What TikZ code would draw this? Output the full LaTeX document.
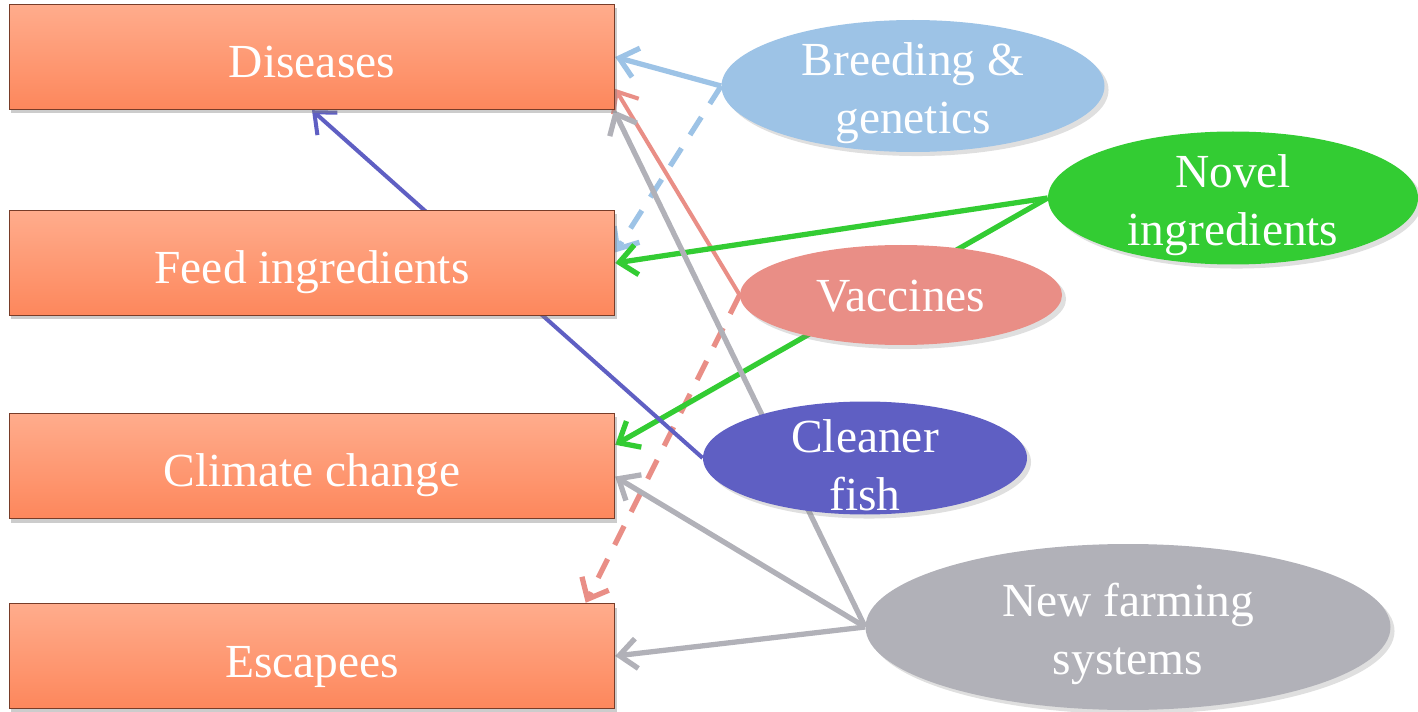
\documentclass[tikz,border=0pt]{standalone}
\usepackage{fontspec}
\setmainfont{Liberation Serif}
\usetikzlibrary{shapes.geometric,arrows.meta,backgrounds,shadows}

\definecolor{boxtop}{RGB}{255,172,140}
\definecolor{boxbot}{RGB}{253,135,92}
\definecolor{boxedge}{RGB}{120,60,40}
\definecolor{breedblue}{RGB}{157,195,230}
\definecolor{novelgreen}{RGB}{51,204,51}
\definecolor{vaccred}{RGB}{233,142,134}
\definecolor{cleanblue}{RGB}{95,95,195}
\definecolor{farmgray}{RGB}{177,177,184}

\tikzset{
  issue/.style={rectangle, draw=boxedge, line width=0.8pt, top color=boxtop, bottom color=boxbot,
    minimum width=12.1cm, minimum height=2.1cm, text height=1cm, text depth=0.16cm,
    text=white, font=\fontsize{27}{32}\selectfont,
    drop shadow={opacity=0.4, shadow xshift=0.04cm, shadow yshift=-0.08cm}},
  remedy/.style={ellipse, fill=#1, text=white, align=center, inner sep=-1cm, text height=2.1cm,
    font=\fontsize{27}{33}\selectfont, drop shadow={opacity=0.25}},
  link/.style={draw=#1, line width=3pt, -{Straight Barb[length=3.5mm,width=6mm]}},
  maybe/.style={link=#1, dash pattern=on 12pt off 9pt},
}

\begin{document}
\begin{tikzpicture}[node distance=4.12cm]
\useasboundingbox (0,0) rectangle (28.36,14.22);
\node (diseases) [issue] at (6.24,13.08) {Diseases};
\node (feed) [issue, below of=diseases] {Feed ingredients};
\node (climate) [issue, below of=feed, node distance=4.06cm] {Climate change};
\node (escapees) [issue, below of=climate, node distance=3.8cm] {Escapees};

\node (breeding) [remedy=breedblue, minimum width=7.66cm, minimum height=2.64cm] at (18.26,12.5) {Breeding \&\\genetics};
\node (novel) [remedy=novelgreen, minimum width=7.4cm, minimum height=2.66cm] at (24.66,10.26) {Novel\\ingredients};
\node (vaccines) [remedy=vaccred, minimum width=6.44cm, minimum height=2cm, text height=0.66cm] at (18.02,8.32) {Vaccines};
\node (cleaner) [remedy=cleanblue, minimum width=6.48cm, minimum height=2.26cm] at (17.3,5.06) {Cleaner\\fish};
\node (farming) [remedy=farmgray, minimum width=10.5cm, minimum height=3.32cm] at (22.56,1.68) {New farming\\systems};

\begin{pgfonlayer}{background}
\draw[link=breedblue] (breeding.west) -- (diseases.east);
\draw[maybe=breedblue] (breeding.west) -- (feed.2);
\draw[link=vaccred, line width=2.3pt] (vaccines.west) -- (diseases.-6);
\draw[maybe=vaccred] (vaccines.west) -- (escapees.11);
\draw[link=novelgreen] (novel.west) -- (feed.east);
\draw[link=novelgreen] (novel.west) -- (climate.4);
\draw[link=cleanblue, line width=2.3pt] (cleaner.west) -- (diseases.south);
\draw[link=farmgray] (farming.west) -- (diseases.-10.5);
\draw[link=farmgray] (farming.west) -- (climate.-2);
\draw[link=farmgray] (farming.west) -- (escapees.east);
\end{pgfonlayer}
\end{tikzpicture}
\end{document}
